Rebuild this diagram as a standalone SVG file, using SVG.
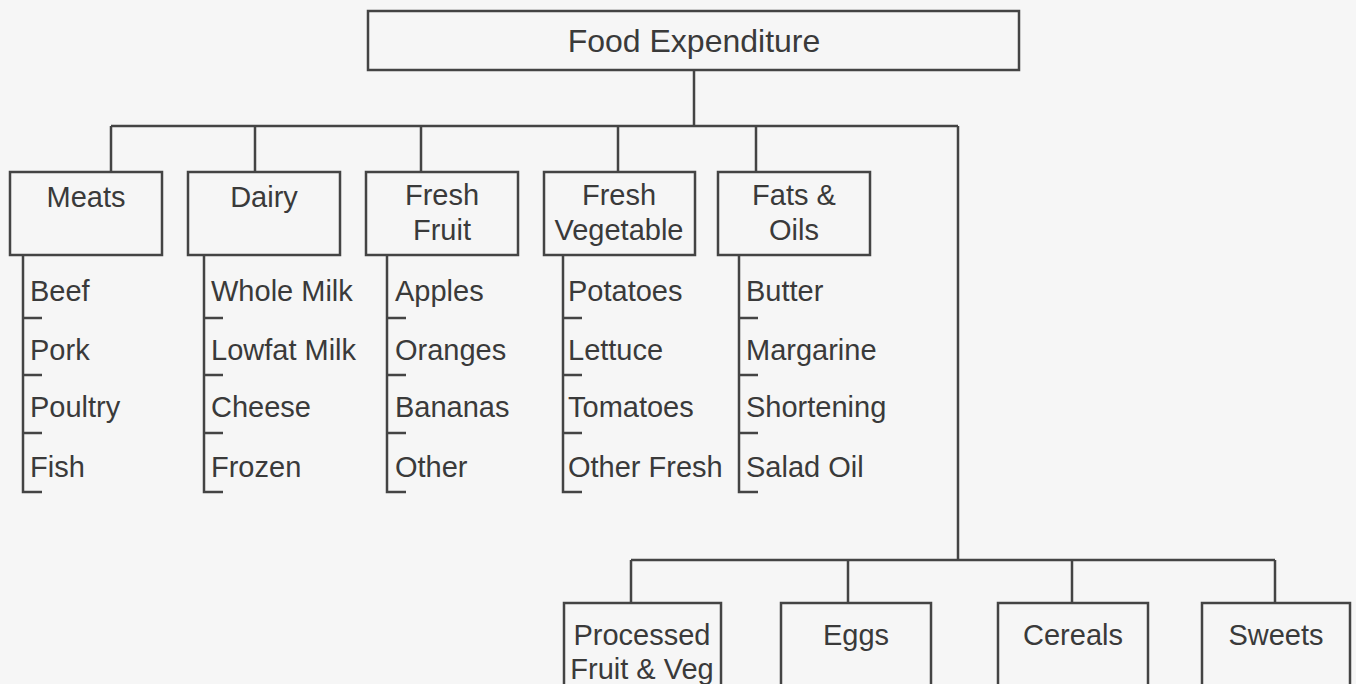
<svg xmlns="http://www.w3.org/2000/svg" width="1356" height="684" viewBox="0 0 1356 684">
<style>
.box{fill:none;stroke:#444;stroke-width:2.5}
.ln{fill:none;stroke:#444;stroke-width:2.5}
text{font-family:"Liberation Sans",Arial,sans-serif;font-size:29px;fill:#3a3a3a}
.c{text-anchor:middle}
.root{font-size:32px}
</style>
<rect width="1356" height="684" fill="#f6f6f6"/>
<g id="connectors">
<path class="ln" d="M694 70V126M111 126H958M111 126V172M255 126V172M421 126V172M618 126V172M756 126V172M958 126V560M631 560H1275M631 560V603M848 560V603M1072 560V603M1275 560V603"/>
<path class="ln" d="M23 255V492H42M23 318H42M23 375H42M23 433H42"/>
<path class="ln" d="M204 255V492H223M204 318H223M204 375H223M204 433H223"/>
<path class="ln" d="M387 255V492H406M387 318H406M387 375H406M387 433H406"/>
<path class="ln" d="M563 255V492H582M563 318H582M563 375H582M563 433H582"/>
<path class="ln" d="M739 255V492H758M739 318H758M739 375H758M739 433H758"/>
</g>
<g id="root"><rect class="box" x="368" y="11" width="651" height="59"/><text class="c root" x="694" y="52">Food Expenditure</text></g>
<g id="meats"><rect class="box" x="10" y="172" width="152" height="83"/><text class="c" x="86" y="207">Meats</text></g>
<g id="dairy"><rect class="box" x="188" y="172" width="152" height="83"/><text class="c" x="264" y="207">Dairy</text></g>
<g id="fresh-fruit"><rect class="box" x="366" y="172" width="152" height="83"/><text class="c" x="442" y="205">Fresh</text><text class="c" x="442" y="240">Fruit</text></g>
<g id="fresh-vegetable"><rect class="box" x="544" y="172" width="151" height="83"/><text class="c" x="619" y="205">Fresh</text><text class="c" x="619" y="240">Vegetable</text></g>
<g id="fats-oils"><rect class="box" x="718" y="172" width="152" height="83"/><text class="c" x="794" y="205">Fats &amp;</text><text class="c" x="794" y="240">Oils</text></g>
<g id="meats-items"><text x="30" y="301">Beef</text><text x="30" y="360">Pork</text><text x="30" y="417">Poultry</text><text x="30" y="477">Fish</text></g>
<g id="dairy-items"><text x="211" y="301">Whole Milk</text><text x="211" y="360">Lowfat Milk</text><text x="211" y="417">Cheese</text><text x="211" y="477">Frozen</text></g>
<g id="fruit-items"><text x="395" y="301">Apples</text><text x="395" y="360">Oranges</text><text x="395" y="417">Bananas</text><text x="395" y="477">Other</text></g>
<g id="veg-items"><text x="568" y="301">Potatoes</text><text x="568" y="360">Lettuce</text><text x="568" y="417">Tomatoes</text><text x="568" y="477">Other Fresh</text></g>
<g id="fats-items"><text x="746" y="301">Butter</text><text x="746" y="360">Margarine</text><text x="746" y="417">Shortening</text><text x="746" y="477">Salad Oil</text></g>
<g id="processed"><rect class="box" x="564" y="603" width="157" height="100"/><text class="c" x="642" y="645">Processed</text><text class="c" x="642" y="679">Fruit &amp; Veg</text></g>
<g id="eggs"><rect class="box" x="781" y="603" width="150" height="100"/><text class="c" x="856" y="645">Eggs</text></g>
<g id="cereals"><rect class="box" x="998" y="603" width="150" height="100"/><text class="c" x="1073" y="645">Cereals</text></g>
<g id="sweets"><rect class="box" x="1202" y="603" width="148" height="100"/><text class="c" x="1276" y="645">Sweets</text></g>
</svg>
